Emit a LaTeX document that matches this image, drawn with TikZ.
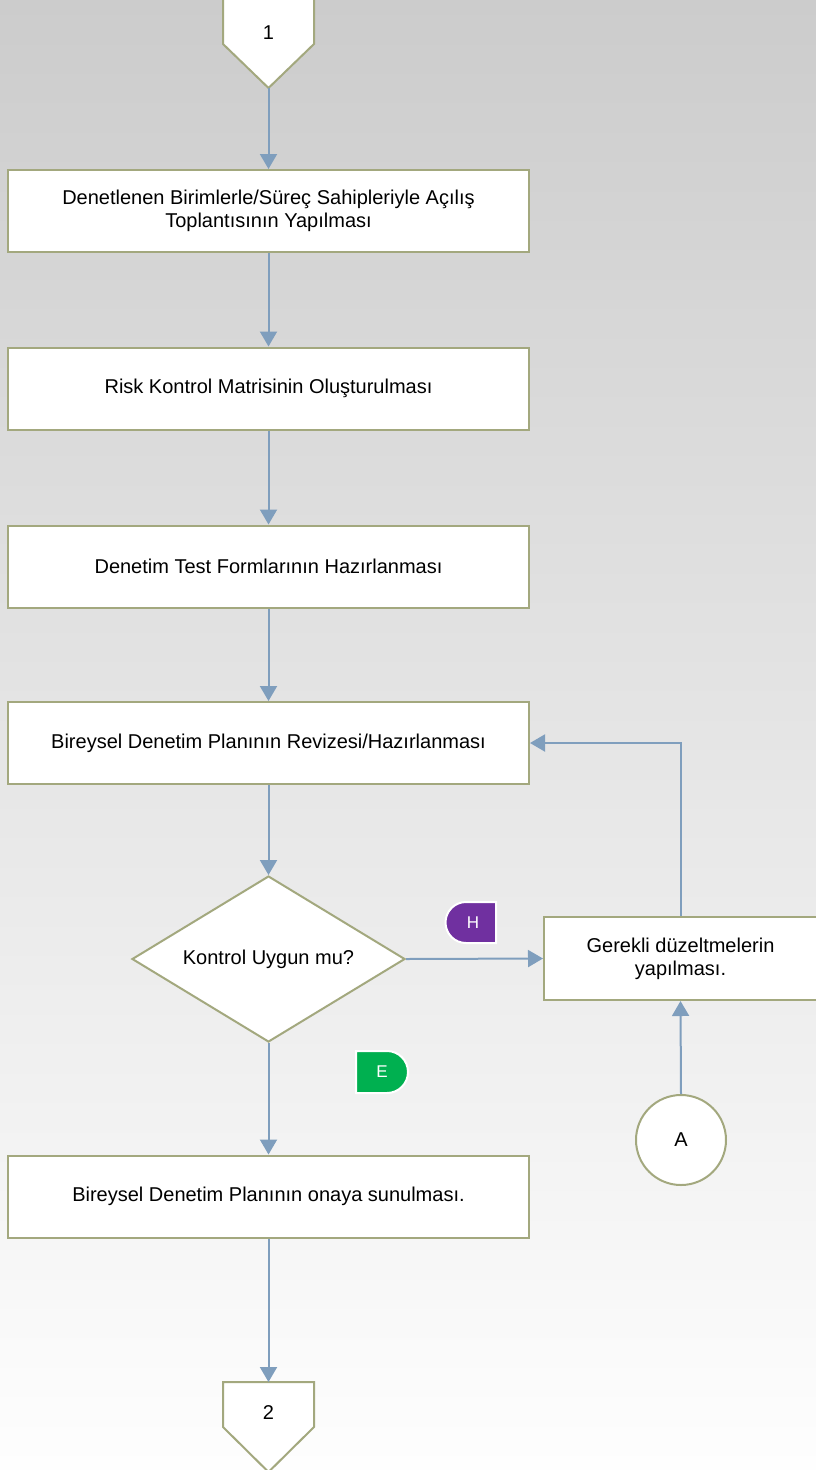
\documentclass[tikz,border=0pt]{standalone}
\usepackage{fontspec}
\setmainfont{Liberation Sans}
\usetikzlibrary{shapes.geometric,arrows.meta,calc}
\definecolor{bordercol}{HTML}{A3A87E}
\definecolor{arrowcol}{HTML}{7F9EBD}
\definecolor{bgtop}{HTML}{CCCCCC}
\definecolor{bgbot}{HTML}{FEFEFE}
\definecolor{hpurple}{HTML}{7030A0}
\definecolor{egreen}{HTML}{00B050}
\tikzset{
  procbox/.style={draw=bordercol, line width=2pt, fill=white, rectangle,
    minimum width=521pt, minimum height=82pt, align=center, inner sep=2pt,
    font=\fontsize{20}{23}\selectfont},
  decbox/.style={draw=bordercol, line width=2pt, fill=white, diamond, aspect=1.64,
    minimum width=273pt, minimum height=166pt, inner sep=0pt,
    font=\fontsize{20}{23}\selectfont},
  circbox/.style={draw=bordercol, line width=2pt, fill=white, circle,
    minimum size=90pt, inner sep=0pt, font=\fontsize{20}{23}\selectfont},
  offpg/.style={draw=bordercol, line width=2pt, fill=white},
  lbl/.style={font=\fontsize{20}{23}\selectfont},
  badgelbl/.style={font=\fontsize{17}{20}\selectfont, text=white},
  conn/.style={draw=arrowcol, line width=2pt, -{Triangle[width=17pt,length=15pt]}},
}
\begin{document}
\begin{tikzpicture}[x=1pt,y=-1pt]
\useasboundingbox (0,0) rectangle (816,1470);
\shade[top color=bgtop, bottom color=bgbot] (0,0) rectangle (816,1470);

% off-page connector 1
\path[offpg] (223,-4) -- (223,44) -- (268.5,88) -- (314,44) -- (314,-4) -- cycle;
\node[lbl] (op1) at (268.5,33) {1};
\coordinate (op1tip) at (268.5,88);

% process boxes
\node[procbox] (b1) at (268.5,211) {Denetlenen Birimlerle/Süreç Sahipleriyle Açılış\\Toplantısının Yapılması};
\node[procbox] (b2) at (268.5,388.5) {Risk Kontrol Matrisinin Oluşturulması};
\node[procbox] (b3) at (268.5,566.5) {Denetim Test Formlarının Hazırlanması};
\node[procbox] (b4) at (268.5,743) {Bireysel Denetim Planının Revizesi/Hazırlanması};
\node[decbox] (d1) at (268.5,959) {Kontrol Uygun mu?};
\node[procbox, minimum width=273pt, minimum height=83pt] (b5) at (680.5,958.5) {Gerekli düzeltmelerin\\yapılması.};
\node[circbox] (ca) at (681,1140) {A};
\node[procbox] (b6) at (268.5,1196.5) {Bireysel Denetim Planının onaya sunulması.};

% off-page connector 2
\path[offpg] (223,1382) -- (314,1382) -- (314,1427) -- (268.5,1472) -- (223,1427) -- cycle;
\node[lbl] (op2) at (268.5,1412) {2};
\coordinate (op2top) at (268.5,1382);

% badges
\path[fill=hpurple, draw=white, line width=2pt] (496,902) -- (466,902) arc[start angle=270, end angle=90, radius=20.5] -- (496,943) -- cycle;
\node[badgelbl] (hb) at (473,922.5) {H};
\path[fill=egreen, draw=white, line width=2pt] (356,1051) -- (387,1051) arc[start angle=270, end angle=450, radius=21] -- (356,1093) -- cycle;
\node[badgelbl] (eb) at (382,1072) {E};

% connectors
\draw[conn] (op1tip) -- (b1.north);
\draw[conn] (b1) -- (b2);
\draw[conn] (b2) -- (b3);
\draw[conn] (b3) -- (b4);
\draw[conn] (b4) -- (d1.north);
\draw[conn] (d1.east) -- (b5.west);
\draw[conn] (b5.north) |- (b4.east);
\draw[conn] (ca.north) -- (b5.south);
\draw[conn] (d1.south) -- (b6.north);
\draw[conn] (b6.south) -- (op2top);
\end{tikzpicture}
\end{document}
